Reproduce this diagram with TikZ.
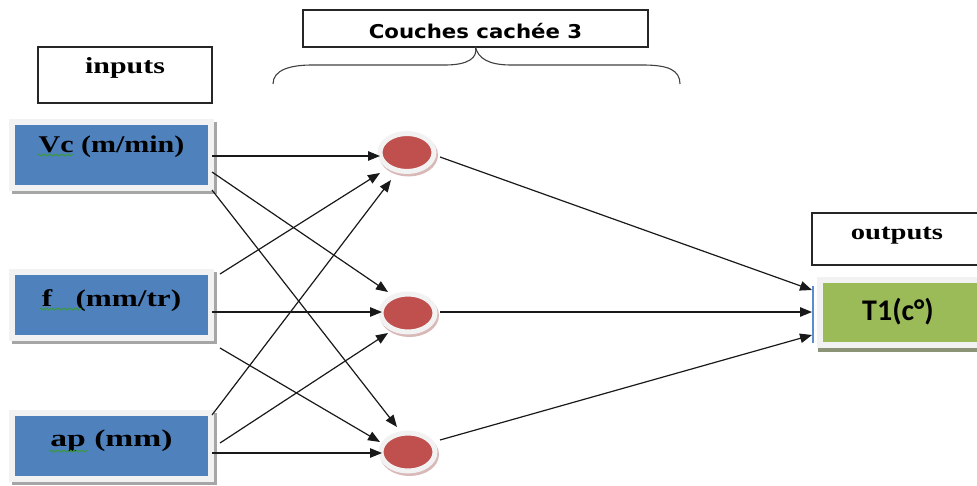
\documentclass[tikz,border=0pt]{standalone}
\usepackage{fontspec}
\setmainfont{Liberation Serif}
\newfontfamily\dvsans{DejaVu Sans}
\newfontfamily\carl{Carlito}
\usetikzlibrary{arrows.meta,shapes.geometric,decorations.pathmorphing}
\definecolor{inblue}{HTML}{4F81BD}
\definecolor{outgreen}{HTML}{9BBB59}
\definecolor{neured}{HTML}{C0504D}
\definecolor{framegray}{HTML}{F2F2F2}
\definecolor{shadowgray}{HTML}{A6A6A6}
\definecolor{neushadow}{HTML}{D9B8B8}
\definecolor{greenshadow}{HTML}{8C9478}
\definecolor{squiggle}{HTML}{3A9A3A}
\definecolor{sideblue}{HTML}{5B8BD0}
\newcommand{\widetxt}[2]{\scalebox{#1}[1]{#2}}
\newcommand{\raisetxt}[2]{\raisebox{#1}[0pt][0pt]{#2}}
\begin{document}
\begin{tikzpicture}[x=1pt,y=-1pt,
  inbox/.style={rectangle, fill=inblue, draw=framegray, line width=6pt,
    minimum width=199pt, minimum height=66pt, inner sep=0pt, outer sep=0pt,
    font=\fontsize{24}{28}\selectfont\bfseries,
    preaction={draw=shadowgray, line width=6pt, transform canvas={xshift=3pt,yshift=-3pt}}},
  outbox/.style={rectangle, fill=outgreen, draw=framegray, line width=6pt,
    minimum width=160pt, minimum height=65pt, inner sep=0pt, outer sep=0pt,
    font=\carl\fontsize{30}{34}\selectfont\bfseries,
    preaction={draw=greenshadow, line width=6pt, transform canvas={xshift=1pt,yshift=-4pt}}},
  neuron/.style={ellipse, fill=neured, draw=framegray, line width=5pt,
    minimum width=54pt, minimum height=38pt, inner sep=0pt, outer sep=0pt,
    preaction={draw=neushadow, line width=5pt, transform canvas={xshift=1.5pt,yshift=-2.5pt}}},
  labelbox/.style={rectangle, draw=black!85, line width=1.4pt, fill=white,
    inner sep=0pt, outer sep=0pt},
  serlab/.style={font=\fontsize{23}{26}\selectfont\bfseries},
  conn/.style={draw=black!90, line width=1.2pt, -{Triangle[length=12pt,width=9.5pt]}},
  squig/.style={draw=squiggle, line width=0.7pt, decorate,
    decoration={snake, amplitude=1pt, segment length=3pt}},
  bracepath/.style={draw=black!75, line width=1.1pt},
  sideline/.style={draw=sideblue, line width=1.3pt}
]
\useasboundingbox (0,0) rectangle (977,485);
\clip (0,0) rectangle (977,485);

% label boxes
\node[labelbox, serlab, minimum width=174pt, minimum height=56pt] (inlab) at (125,75)
  {\raisetxt{2pt}{\widetxt{1.3}{inputs}}};
\node[labelbox, minimum width=345pt, minimum height=37pt,
  font=\dvsans\fontsize{19}{22}\selectfont\bfseries] (couches) at (475.5,28.5)
  {\raisetxt{-9.5pt}{\widetxt{1.12}{Couches cachée 3}}};
\node[labelbox, minimum width=180pt, minimum height=52pt,
  font=\fontsize{22}{26}\selectfont\bfseries] (outlab) at (902,239)
  {\hspace*{-10pt}\raisetxt{0pt}{\widetxt{1.3}{outputs}}};

% brace under hidden layer title
\draw[bracepath] (couches.south) .. controls (478,58) and (468,65) .. (445,65)
  -- (312,65) .. controls (290,65) and (273,70) .. (273,84);
\draw[bracepath] (couches.south) .. controls (478,58) and (488,65) .. (511,65)
  -- (643,65) .. controls (668,65) and (680,70) .. (680,84);

% input boxes
\node[inbox] (vc) at (111.5,155) {\raisetxt{2.5pt}{\widetxt{1.25}{Vc (m/min)}}};
\node[inbox] (f) at (111.5,305) {\raisetxt{-1.5pt}{\widetxt{1.3}{f\hspace{0.75em}(mm/tr)}}};
\node[inbox] (ap) at (111.5,445.5) {\raisetxt{-1pt}{\widetxt{1.4}{ap (mm)}}};

% spelling squiggles
\draw[squig] (38,155) -- (73,155);
\draw[squig] (40,309) -- (82,309);
\draw[squig] (49,451) -- (88,451);

% hidden neurons
\node[neuron] (h1) at (407,152.5) {};
\node[neuron] (h2) at (408,313) {};
\node[neuron] (h3) at (408,452) {};

% output box
\node[outbox] (t1) at (900,312.5) {\hspace*{-4pt}\raisetxt{-8pt}{T1(c°)}};
\draw[sideline] ([shift={(-87,-26.5)}]t1.center) -- ([shift={(-87,30.5)}]t1.center);

% input -> hidden connections
\draw[conn] ([shift={(100.5,1)}]vc.center) -- ([shift={(-27,3.5)}]h1.center);
\draw[conn] ([shift={(100.5,17)}]vc.center) -- ([shift={(-20,-21)}]h2.center);
\draw[conn] ([shift={(100.5,35)}]vc.center) -- ([shift={(-11,-25)}]h3.center);

\draw[conn] ([shift={(108.5,-31)}]f.center) -- ([shift={(-27,20.5)}]h1.center);
\draw[conn] ([shift={(100.5,7)}]f.center) -- ([shift={(-26,-1)}]h2.center);
\draw[conn] ([shift={(108.5,43)}]f.center) -- ([shift={(-28,-10)}]h3.center);

\draw[conn] ([shift={(100.5,-30.5)}]ap.center) -- ([shift={(-16,27.5)}]h1.center);
\draw[conn] ([shift={(108.5,-2.5)}]ap.center) -- ([shift={(-20,20)}]h2.center);
\draw[conn] ([shift={(100.5,7.5)}]ap.center) -- ([shift={(-26,1)}]h3.center);

% hidden -> output connections
\draw[conn] ([shift={(33,4.5)}]h1.center) -- ([shift={(-88,-22.5)}]t1.center);
\draw[conn] ([shift={(32,-1)}]h2.center) -- ([shift={(-88,-0.5)}]t1.center);
\draw[conn] ([shift={(32,-12)}]h3.center) -- ([shift={(-88,22.5)}]t1.center);
\end{tikzpicture}
\end{document}
